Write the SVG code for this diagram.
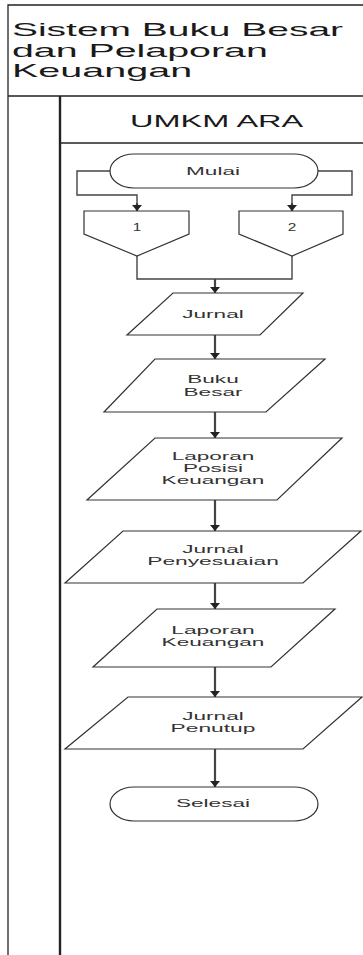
<svg xmlns="http://www.w3.org/2000/svg" width="363" height="955" viewBox="0 0 363 955">
<style>
text{font-family:"Liberation Sans",Arial,sans-serif;fill:#2a2a2a}
.title{font-size:19px;fill:#1a1a1a}
.lane{font-size:16px;fill:#1a1a1a}
.lbl{font-size:11px;text-anchor:middle;fill:#333}
.frame{stroke:#222;fill:none;stroke-width:1.3}
.shape{fill:#fff;stroke:#333;stroke-width:1.2}
.conn{fill:none;stroke:#444;stroke-width:1.4}
.arr{fill:none;stroke:#444;stroke-width:2.2;marker-end:url(#ah)}
</style>
<defs>
<marker id="ah" markerWidth="6" markerHeight="10" refX="6" refY="5" orient="auto" markerUnits="userSpaceOnUse">
<path d="M0,0 L6,5 L0,10 z" fill="#222"/>
</marker>
</defs>
<rect width="363" height="955" fill="#fff"/>
<g id="pool">
<path class="frame" d="M8,955 V5 H363 M8,96 H363"/>
<path d="M60,96 V955" stroke="#222" stroke-width="2.4" fill="none"/>
<path class="frame" d="M60,143 H363" stroke-width="1"/>
<text class="title" transform="translate(12,0) scale(2.05,1)" x="0" y="36">Sistem Buku Besar</text>
<text class="title" transform="translate(12,0) scale(2.07,1)" x="0" y="57">dan Pelaporan</text>
<text class="title" transform="translate(12,0) scale(2.08,1)" x="0" y="77">Keuangan</text>
<text class="lane" transform="translate(130,0) scale(2.03,1)" x="0" y="127">UMKM ARA</text>
</g>
<g id="connectors">
<path class="conn" d="M110,171 H77 V195 H137 V204"/>
<path class="arr" d="M137,203 V211"/>
<path class="conn" d="M318,171 H352 V195 H292 V204"/>
<path class="arr" d="M292,203 V211"/>
<path class="conn" d="M137,256 V279 H292 V256"/>
<path class="arr" d="M215,279 V293"/>
<path class="arr" d="M215,335 V359"/>
<path class="arr" d="M215,412 V438"/>
<path class="arr" d="M215,500 V531"/>
<path class="arr" d="M215,583 V609"/>
<path class="arr" d="M215,667 V697"/>
<path class="arr" d="M215,749 V787"/>
</g>
<g id="mulai">
<rect class="shape" x="110" y="154" width="208" height="34" rx="24" ry="17"/>
<text class="lbl" transform="translate(213,0) scale(2.05,1)" x="0" y="175">Mulai</text>
</g>
<g id="conn1">
<path class="shape" d="M84,211 H189 V234 L137,256 L84,234 Z"/>
<text class="lbl" transform="translate(137,0) scale(1.4,1)" x="0" y="231">1</text>
</g>
<g id="conn2">
<path class="shape" d="M239,211 H343 V234 L292,256 L239,234 Z"/>
<text class="lbl" transform="translate(292,0) scale(1.4,1)" x="0" y="231">2</text>
</g>
<g id="jurnal">
<polygon class="shape" points="173,293 303,293 260,335 127,335"/>
<text class="lbl" transform="translate(213,0) scale(2.05,1)" x="0" y="318">Jurnal</text>
</g>
<g id="bukubesar">
<polygon class="shape" points="155,359 325,359 266,412 104,412"/>
<text class="lbl" transform="translate(213,0) scale(2.05,1)" x="0" y="383">Buku</text>
<text class="lbl" transform="translate(213,0) scale(2.05,1)" x="0" y="396">Besar</text>
</g>
<g id="lpk">
<polygon class="shape" points="155,438 342,438 277,500 87,500"/>
<text class="lbl" transform="translate(213,0) scale(2.05,1)" x="0" y="460">Laporan</text>
<text class="lbl" transform="translate(213,0) scale(2.05,1)" x="0" y="472">Posisi</text>
<text class="lbl" transform="translate(213,0) scale(2.05,1)" x="0" y="484">Keuangan</text>
</g>
<g id="jp">
<polygon class="shape" points="123,531 361,531 303,583 65,583"/>
<text class="lbl" transform="translate(213,0) scale(2.05,1)" x="0" y="553">Jurnal</text>
<text class="lbl" transform="translate(213,0) scale(2.07,1)" x="0" y="565">Penyesuaian</text>
</g>
<g id="lk">
<polygon class="shape" points="157,609 335,609 271,667 93,667"/>
<text class="lbl" transform="translate(213,0) scale(2.07,1)" x="0" y="634">Laporan</text>
<text class="lbl" transform="translate(213,0) scale(2.05,1)" x="0" y="646">Keuangan</text>
</g>
<g id="jpn">
<polygon class="shape" points="128,697 362,697 303,749 65,749"/>
<text class="lbl" transform="translate(213,0) scale(2.05,1)" x="0" y="720">Jurnal</text>
<text class="lbl" transform="translate(213,0) scale(2.07,1)" x="0" y="732">Penutup</text>
</g>
<g id="selesai">
<rect class="shape" x="110" y="787" width="208" height="34" rx="24" ry="17"/>
<text class="lbl" transform="translate(213,0) scale(2.05,1)" x="0" y="807">Selesai</text>
</g>
</svg>
